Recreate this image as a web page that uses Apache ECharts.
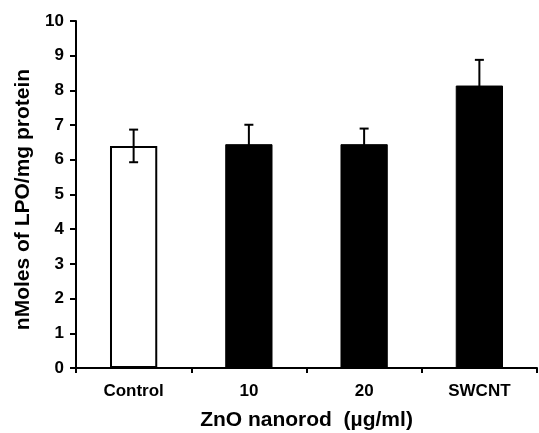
<!DOCTYPE html>
<html><head><meta charset="utf-8">
<script src="https://cdn.jsdelivr.net/npm/echarts@6/dist/echarts.min.js"></script>
<style>html,body{margin:0;padding:0;background:#fff}#c{width:539px;height:433px}</style>
</head><body><div id="c"></div>
<script>
const categories = ['Control', '10', '20', 'SWCNT'];
const values = [6.40, 6.45, 6.45, 8.14];
const errors = [0.47, 0.56, 0.45, 0.74];
const yTicks = [0,1,2,3,4,5,6,7,8,9,10];

const font = '"Liberation Sans", Arial, sans-serif';
const chart = echarts.init(document.getElementById('c'));
chart.setOption({
  animation: false,
  backgroundColor: '#fff',
  grid: {left: 76, right: 2, top: 21, bottom: 65, outerBoundsMode: 'none', containLabel: false},
  xAxis: {
    type: 'category', data: categories, boundaryGap: true,
    name: 'ZnO nanorod  (\u00b5g/ml)', nameLocation: 'middle', nameGap: 42,
    nameTextStyle: {fontFamily: font, fontWeight: 'bold', fontSize: 21, color: '#000'},
    axisLine: {lineStyle: {color: '#000', width: 2}},
    axisTick: {show: true, length: 5, inside: false, lineStyle: {color: '#000', width: 2}},
    axisLabel: {fontFamily: font, fontWeight: 'bold', fontSize: 17, color: '#000', margin: 15}
  },
  yAxis: {
    type: 'value', min: 0, max: 10, interval: 1,
    name: 'nMoles of LPO/mg protein', nameLocation: 'middle', nameGap: 42,
    nameTextStyle: {fontFamily: font, fontWeight: 'bold', fontSize: 21, color: '#000', padding: [0, 10, 0, 0]},
    axisLine: {show: true, lineStyle: {color: '#000', width: 2}},
    axisTick: {show: true, length: 6, lineStyle: {color: '#000', width: 2}},
    splitLine: {show: false},
    axisLabel: {fontFamily: font, fontWeight: 'bold', fontSize: 17, color: '#000', margin: 12,
      formatter: v => yTicks.includes(v) ? String(v) : ''}
  },
  series: [
    {
      type: 'bar', barWidth: '41%',
      data: values.map((v, i) => ({
        value: v,
        itemStyle: i === 0 ? {color: '#fff', borderColor: '#000', borderWidth: 2} : {color: '#000', borderColor: '#000', borderWidth: 1}
      })),
      z: 2
    },
    {
      type: 'custom', z: 5,
      data: values.map((v, i) => [i, v - errors[i], v + errors[i]]),
      renderItem: (params, api) => {
        const x = api.value(0);
        const lo = api.coord([x, api.value(1)]);
        const hi = api.coord([x, api.value(2)]);
        const hw = 4.5;
        const st = {stroke: '#000', lineWidth: 2};
        return {type: 'group', children: [
          {type: 'line', shape: {x1: lo[0], y1: lo[1], x2: hi[0], y2: hi[1]}, style: st},
          {type: 'line', shape: {x1: hi[0]-hw, y1: hi[1], x2: hi[0]+hw, y2: hi[1]}, style: st},
          {type: 'line', shape: {x1: lo[0]-hw, y1: lo[1], x2: lo[0]+hw, y2: lo[1]}, style: st}
        ]};
      }
    }
  ]
});
</script></body></html>
